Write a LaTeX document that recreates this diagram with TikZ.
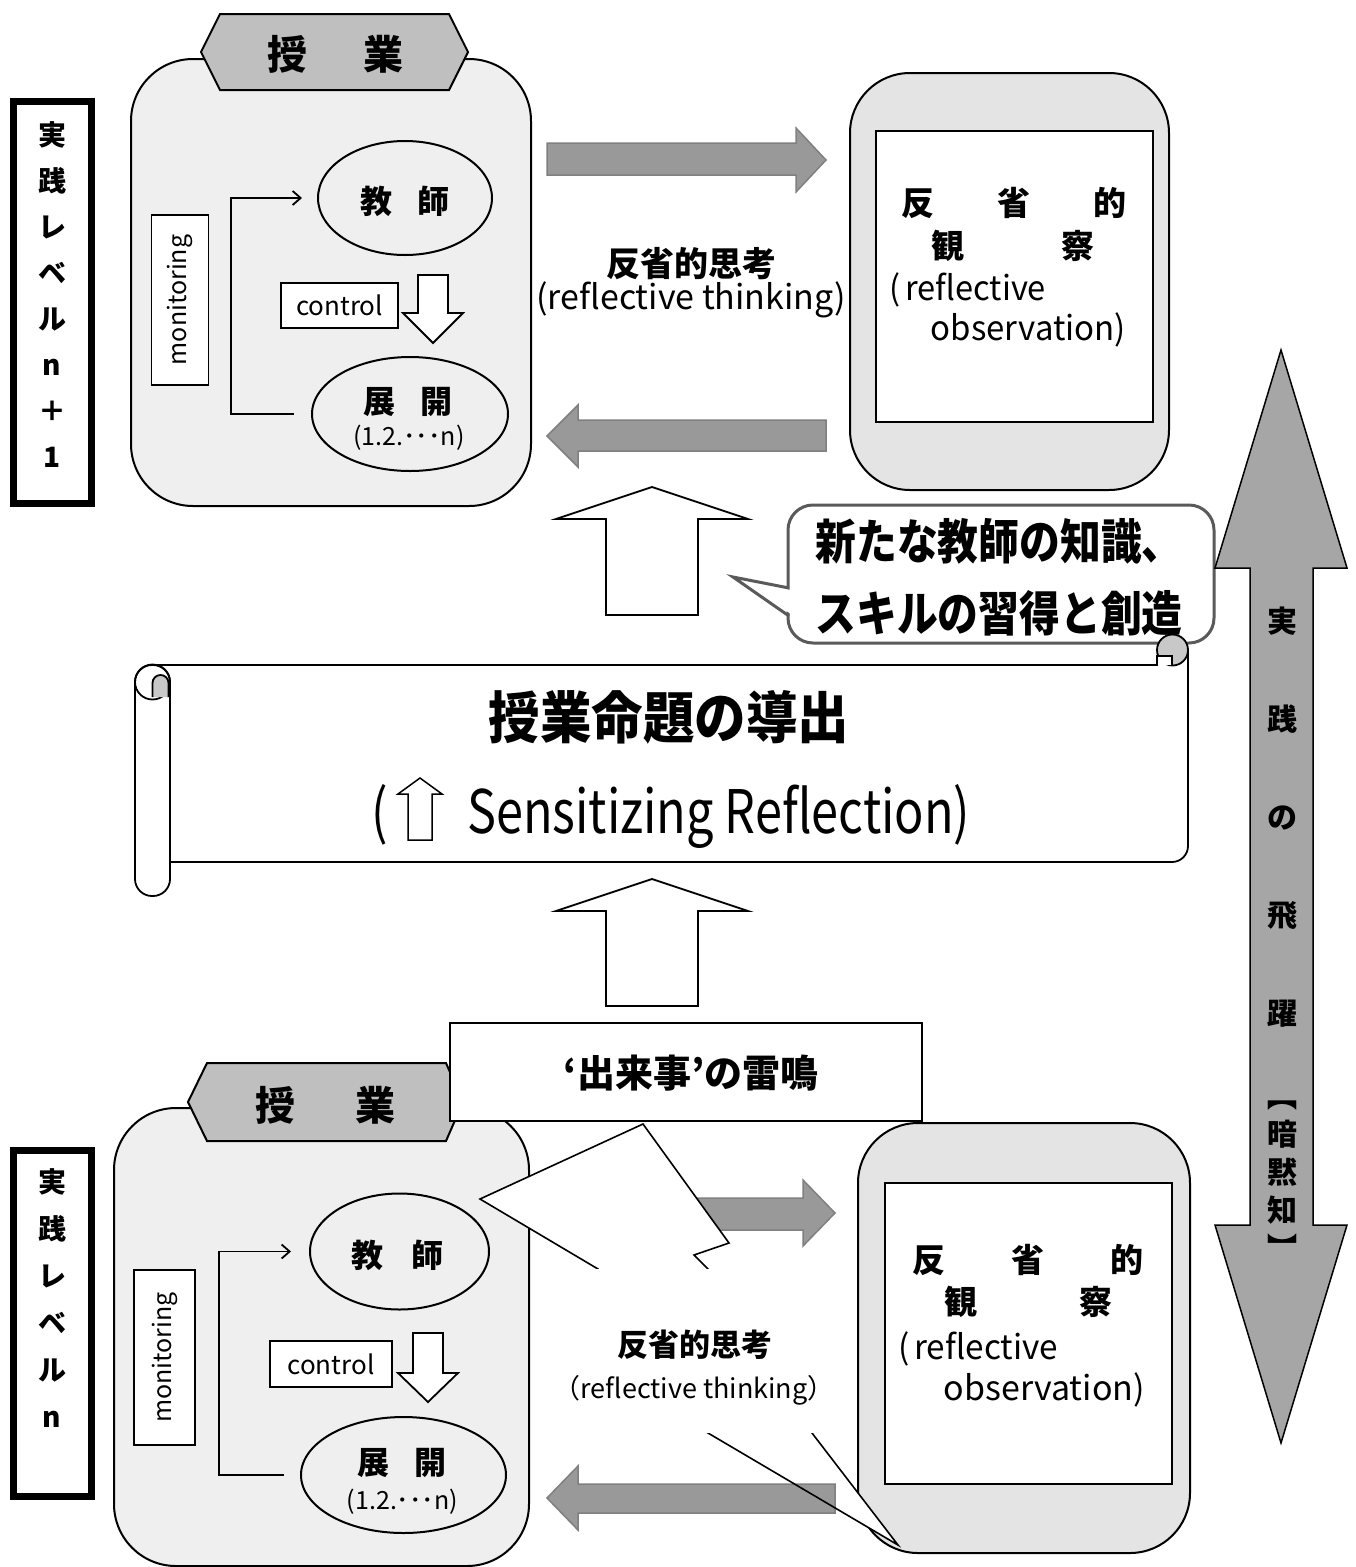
\documentclass[tikz,border=0pt]{standalone}
\usepackage{fontspec}
\setmainfont{Noto Sans CJK JP}
\usetikzlibrary{shapes.geometric,arrows.meta}
\definecolor{boxA}{HTML}{EFEFEF}
\definecolor{boxB}{HTML}{E4E4E4}
\definecolor{hexgray}{HTML}{BFBFBF}
\definecolor{arrgray}{HTML}{999999}
\definecolor{arredge}{HTML}{808080}
\definecolor{bigarr}{HTML}{A6A6A6}
\definecolor{callgray}{HTML}{5A5A5A}
\definecolor{curlgray}{HTML}{C8C8C8}
\newcommand\fsz[2]{\fontsize{#1}{#2}\selectfont}
\tikzset{
  bigbox/.style={draw, line width=2pt, inner sep=0pt},
  lvlbox/.style={draw, line width=7pt, minimum width=78pt, inner sep=0pt},
  hexa/.style={draw, line width=2pt, fill=hexgray},
  ell/.style={ellipse, draw, line width=2pt, inner sep=0pt},
  thinbox/.style={draw, line width=1.3pt, fill=white, inner sep=0pt},
  graya/.style={fill=arrgray, draw=arredge, line width=1.5pt},
  whitea/.style={fill=white, draw=black, line width=1.8pt},
  txt/.style={inner sep=0pt, align=center},
  fb/.style={line width=1.8pt, -{Straight Barb[length=8pt,width=14pt]}},
  scr/.style={draw=black, line width=1.8pt},
}
\begin{document}
\begin{tikzpicture}[x=1pt,y=-1pt]
\useasboundingbox (0,0) rectangle (1356,1567);
\fill[white] (0,0) rectangle (1356,1567);

%%%%% TOP LEVEL (n+1)
\node[lvlbox, minimum height=402pt] (lvlT) at (52,302.5) {};
\node[txt, font=\fsz{28}{46}\bfseries] (lvlTt) at (52,294.5) {実\\践\\レ\\ベ\\ル\\n\\＋\\1};

\node[bigbox, fill=boxA, rounded corners=62pt, minimum width=400pt, minimum height=447pt] (lessT) at (331,282.5) {};
\draw[hexa] (201,52) -- (220,14) -- (449,14) -- (468,52) -- (449,90) -- (220,90) -- cycle;
\node[txt, font=\fsz{40}{40}\bfseries] (jugT) at (335,54) {授\hspace{56pt}業};
\node[ell, fill=boxA, minimum width=174pt, minimum height=114pt] (kyoT) at (405,198) {};
\node[txt, font=\fsz{32}{32}\bfseries] (kyoTt) at (405,201) {教\hspace{25pt}師};
\node[ell, fill=boxA, minimum width=196pt, minimum height=114pt] (tenT) at (410,414) {};
\node[txt, font=\fsz{32}{32}\bfseries] (tenTt) at (408,402) {展\hspace{25pt}開};
\node[txt, font=\fsz{25}{25}] (tenTn) at (409,438) {(1.2.･･･n)};
\node[thinbox, rotate=90, minimum width=170pt, minimum height=57pt, font=\fsz{25}{25}] (monT) at (180,300) {monitoring};
\node[thinbox, minimum width=117pt, minimum height=45pt, font=\fsz{26}{26}] (ctrlT) at (339.5,305.5) {control};
\draw[whitea] (418,275) -- (448,275) -- (448,313) -- (463,313) -- (433,343) -- (403,313) -- (418,313) -- cycle;
\draw[fb, shorten <=17pt, shorten >=15pt] (tenT.west) -- ++(-80,0) |- (kyoT.west);

\draw[graya] (547,143) -- (796,143) -- (796,128) -- (826,160) -- (796,192) -- (796,175) -- (547,175) -- cycle;
\draw[graya] (826,420) -- (578,420) -- (578,405) -- (547,436) -- (578,467) -- (578,451) -- (826,451) -- cycle;
\node[txt, font=\fsz{34}{34}\bfseries] (rtT) at (691,264) {反省的思考};
\node[txt, font=\fsz{34}{34}] (rtTe) at (691,300) {(reflective thinking)};

\node[bigbox, fill=boxB, rounded corners=60pt, minimum width=319pt, minimum height=417pt] (obsT) at (1009.5,281.5) {};
\node[thinbox, minimum width=277pt, minimum height=291pt] (obsTin) at (1014.5,276.5) {};
\node[txt, font=\fsz{33}{33}\bfseries] (obsT1) at (1014,203) {反\hspace{63pt}省\hspace{63pt}的};
\node[txt, font=\fsz{33}{33}\bfseries] (obsT2) at (1013,246) {観\hspace{97pt}察};
\node[txt, font=\fsz{34}{34}, xscale=0.96, anchor=west] (obsT3) at (889,290) {(\hspace{5pt}reflective};
\node[txt, font=\fsz{34}{34}, xscale=0.97, anchor=east] (obsT4) at (1126,330) {observation)};

%%%%% UP ARROW 1 and CALLOUT
\draw[whitea] (606,615) -- (606,519) -- (556,519) -- (652,487) -- (748,519) -- (698,519) -- (698,615) -- cycle;
\draw[line width=3pt, draw=callgray, fill=white, rounded corners=25pt] (788,505) rectangle (1214,643);
\fill[white] (791,590) -- (734,577) -- (791,614) -- cycle;
\draw[line width=3pt, draw=callgray] (789,588) -- (733,577) -- (789,616);
\node[txt, font=\fsz{48}{72}\bfseries, xscale=0.85] (newk) at (999,577) {新たな教師の知識、\\スキルの習得と創造};

%%%%% SCROLL
\fill[white] (170,665) rectangle (1188,862);
\draw[scr] (152.5,665) -- (1158,665);
\draw[scr, rounded corners=16pt] (170,862) -- (1188,862) -- (1188,650);
\draw[scr, fill=curlgray] (1172.5,650) circle[radius=15.5];
\draw[scr, fill=white] (1157,665) -- (1157,656) -- (1172,656) -- (1172,665);
\draw[scr, fill=white, rounded corners=17pt] (135,665) rectangle (170,896);
\draw[scr] (152.5,682) circle[radius=17.5];
\draw[scr, fill=curlgray] (152.5,697) -- (152.5,683) arc[start angle=180, end angle=360, radius=8] -- (168.5,697);
\node[txt, font=\fsz{56}{56}\bfseries, xscale=0.92] (prop) at (669,717) {授業命題の導出};
\node[txt, font=\fsz{60}{60}, xscale=0.81, anchor=base east] (lpar) at (388,833) {(};
\draw[whitea, line width=1.5pt] (408,840) -- (408,794) -- (398,794) -- (420,778) -- (442,794) -- (432,794) -- (432,840) -- cycle;
\node[txt, font=\fsz{60}{60}, xscale=0.81, anchor=base west] (sens) at (467,833) {Sensitizing Reflection)};

%%%%% UP ARROW 2
\draw[whitea] (606,1006) -- (606,911) -- (556,911) -- (652,879) -- (748,911) -- (698,911) -- (698,1006) -- cycle;

%%%%% BOTTOM LEVEL (n)
\node[lvlbox, minimum height=346pt] (lvlB) at (52,1323.5) {};
\node[txt, font=\fsz{28}{47}\bfseries] (lvlBt) at (52,1298.5) {実\\践\\レ\\ベ\\ル\\n};

\node[bigbox, fill=boxA, rounded corners=62pt, minimum width=415pt, minimum height=458pt] (lessB) at (321.5,1337) {};
\draw[hexa] (188,1102) -- (207,1063) -- (446,1063) -- (463,1102) -- (446,1141) -- (207,1141) -- cycle;
\node[txt, font=\fsz{40}{40}\bfseries] (jugB) at (325,1105) {授\hspace{60pt}業};
\node[ell, fill=boxA, minimum width=179pt, minimum height=116pt] (kyoB) at (399.5,1251.5) {};
\node[txt, font=\fsz{32}{32}\bfseries] (kyoBt) at (397,1255) {教\hspace{28pt}師};
\node[ell, fill=boxA, minimum width=205pt, minimum height=116pt] (tenB) at (403.5,1475) {};
\node[txt, font=\fsz{32}{32}\bfseries] (tenBt) at (402,1463) {展\hspace{26pt}開};
\node[txt, font=\fsz{25}{25}] (tenBn) at (402.5,1502) {(1.2.･･･n)};
\node[thinbox, rotate=90, minimum width=175pt, minimum height=61pt, font=\fsz{25}{25}] (monB) at (164.5,1357.5) {monitoring};
\node[thinbox, minimum width=122pt, minimum height=46pt, font=\fsz{26}{26}] (ctrlB) at (331,1364) {control};
\draw[whitea] (413,1333) -- (443,1333) -- (443,1373) -- (458,1373) -- (428,1402) -- (398,1373) -- (413,1373) -- cycle;
\draw[fb, shorten <=16pt, shorten >=18pt] (tenB.west) -- ++(-81,0) |- (kyoB.west);

\node[bigbox, fill=boxB, rounded corners=60pt, minimum width=332pt, minimum height=430pt] (obsB) at (1024,1338) {};
\node[thinbox, minimum width=287pt, minimum height=301pt] (obsBin) at (1028.5,1333.5) {};
\node[txt, font=\fsz{33}{33}\bfseries] (obsB1) at (1027.5,1260) {反\hspace{66pt}省\hspace{66pt}的};
\node[txt, font=\fsz{33}{33}\bfseries] (obsB2) at (1028,1302) {観\hspace{102pt}察};
\node[txt, font=\fsz{34}{34}, xscale=0.98, anchor=west] (obsB3) at (898,1349) {(\hspace{5pt}reflective};
\node[txt, font=\fsz{34}{34}, xscale=1.0, anchor=east] (obsB4) at (1145,1390) {observation)};

\draw[graya] (548,1198) -- (803,1198) -- (803,1180) -- (835,1213) -- (803,1246) -- (803,1230) -- (548,1230) -- cycle;

\node[thinbox, minimum width=472pt, minimum height=98pt] (event) at (686,1072) {};
\node[txt, font=\fsz{38}{38}\bfseries] (eventt) at (691,1073) {‘出来事’の雷鳴};

% explosion
\fill[white] (480,1199) -- (643,1124) -- (729,1243) -- (694,1255) -- (708,1269) -- (790,1350) -- (812,1433) -- (898,1545) -- (708,1433) -- (570,1350) -- (598,1269) -- cycle;
\draw[graya] (835,1484) -- (578,1484) -- (578,1466) -- (547,1498) -- (578,1530) -- (578,1513) -- (835,1513) -- cycle;
\draw[line width=1.6pt] (480,1199) -- (643,1124) -- (729,1243) -- (694,1255) -- (708,1269) -- (790,1350) -- (812,1433) -- (898,1545) -- (708,1433) -- (570,1350) -- (598,1269) -- cycle;
\fill[white] (537,1269) rectangle (852,1433);
\node[txt, font=\fsz{31}{31}\bfseries] (rtB) at (694.5,1345) {反省的思考};
\node[txt, font=\fsz{27}{27}] (rtBe) at (694,1390) {（reflective thinking）};

%%%%% BIG DOUBLE ARROW
\draw[line width=1.5pt, fill=bigarr] (1281,350) -- (1347,568) -- (1313,568) -- (1313,1225) -- (1347,1225) -- (1281,1443) -- (1215,1225) -- (1250,1225) -- (1250,568) -- (1215,568) -- cycle;
\node[txt, font=\fsz{30}{98}\bfseries] (leap) at (1282,817.5) {実\\践\\の\\飛\\躍};
\node[txt, font=\fsz{30}{38}\bfseries] (tacit) at (1282,1180) {︻\\暗\\黙\\知\\︼};
\end{tikzpicture}
\end{document}
